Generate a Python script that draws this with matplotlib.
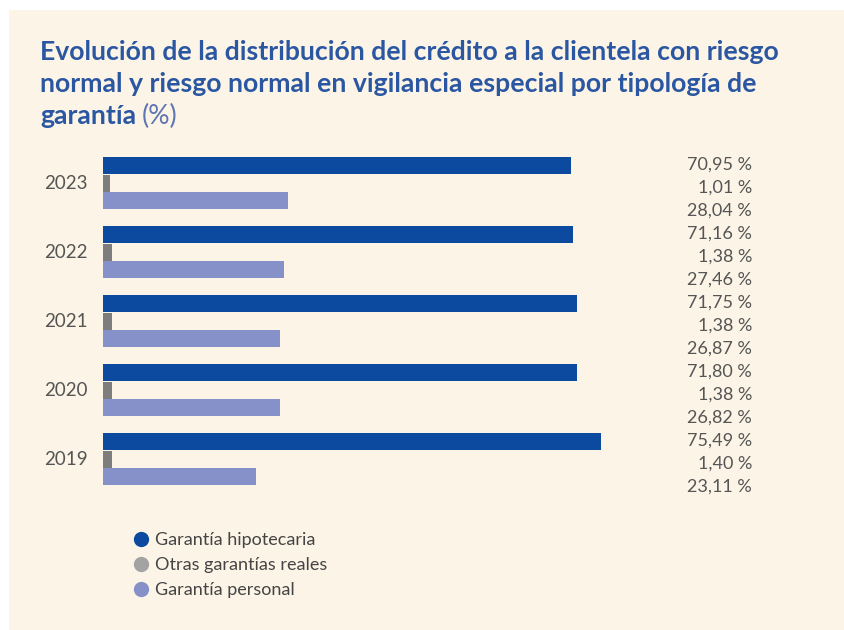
import matplotlib.pyplot as plt
from matplotlib.patches import Rectangle
from matplotlib.lines import Line2D
import matplotlib.transforms as mtransforms

plt.rcParams.update({
    'font.family': ['Lato', 'DejaVu Sans'],
    'font.size': 12,
})

years = ['2023', '2022', '2021', '2020', '2019']
series = ['Garantía hipotecaria', 'Otras garantías reales', 'Garantía personal']
hipotecaria = [70.95, 71.16, 71.75, 71.80, 75.49]
otras = [1.01, 1.38, 1.38, 1.38, 1.40]
personal = [28.04, 27.46, 26.87, 26.82, 23.11]
value_labels = [
    ['70,95 %', '1,01 %', '28,04 %'],
    ['71,16 %', '1,38 %', '27,46 %'],
    ['71,75 %', '1,38 %', '26,87 %'],
    ['71,80 %', '1,38 %', '26,82 %'],
    ['75,49 %', '1,40 %', '23,11 %'],
]

colors = ['#0b4a9f', '#7d7d7d', '#8690c9']
legend_colors = ['#0b4a9f', '#a3a3a3', '#8690c9']
bg = '#fcf5e7'
title_color = '#2a56a2'
text_color = '#555555'

W, H = 844, 630
fig = plt.figure(figsize=(W / 100, H / 100), dpi=100, facecolor='white')

# panel de fondo beige
fig.patches.append(Rectangle((9 / W, 0), 1 - 9 / W, (H - 10) / H,
                             transform=fig.transFigure, facecolor=bg,
                             edgecolor='none', zorder=-1))

# titulo
title_lines = ['Evolución de la distribución del crédito a la clientela con riesgo',
               'normal y riesgo normal en vigilancia especial por tipología de',
               'garantía']
for i, line in enumerate(title_lines):
    t = fig.text(40 / W, 1 - (60 + 32 * i) / H, line, fontsize=19.2,
                 fontweight='bold', color=title_color, va='baseline', ha='left')
fig.canvas.draw()
bb = t.get_window_extent(renderer=fig.canvas.get_renderer())
fig.text((bb.x1 + 6) / W, 1 - (60 + 64) / H, '(%)', fontsize=19.2,
         color='#6076b2', va='baseline', ha='left')

# ejes: 1 unidad vertical = 23 px
scale = 6.6  # px por punto porcentual
ax_left, ax_w = 103, 600
ax_top, ax_h = 153.5, 345
ax = fig.add_axes([ax_left / W, 1 - (ax_top + ax_h) / H, ax_w / W, ax_h / H])
ax.set_xlim(0, ax_w / scale)
ax.set_ylim(-13.5, 1.5)
ax.axis('off')

bar_h = 0.74
bar_shift = 0.2
for g, year in enumerate(years):
    c = -3 * g
    vals = [hipotecaria[g], otras[g], personal[g]]
    for k in range(3):
        yb = c + bar_shift + (1 - k) * 0.76
        ax.barh(yb, vals[k], height=bar_h, color=colors[k], left=0)
    ax.text(-15 / scale, c + bar_shift, year, ha='right', va='center',
            fontsize=13.5, color=text_color)

trans = mtransforms.blended_transform_factory(fig.transFigure, ax.transData)
for g in range(len(years)):
    c = -3 * g
    for k in range(3):
        ax.text(752 / W, c + (1 - k), value_labels[g][k], transform=trans,
                ha='right', va='center', fontsize=13, color=text_color)

# leyenda
handles = [Line2D([], [], marker='o', linestyle='none', markersize=11,
                  markerfacecolor=legend_colors[k], markeredgecolor='none')
           for k in range(3)]
fig.legend(handles, series, loc='upper left', bbox_to_anchor=(134 / W, 1 - 532 / H),
           frameon=False, handlelength=0.8, handletextpad=0.35, labelspacing=0.5,
           borderaxespad=0, borderpad=0, labelcolor='#444444', fontsize=13)

fig.savefig('out.png', dpi=100, facecolor='white')
